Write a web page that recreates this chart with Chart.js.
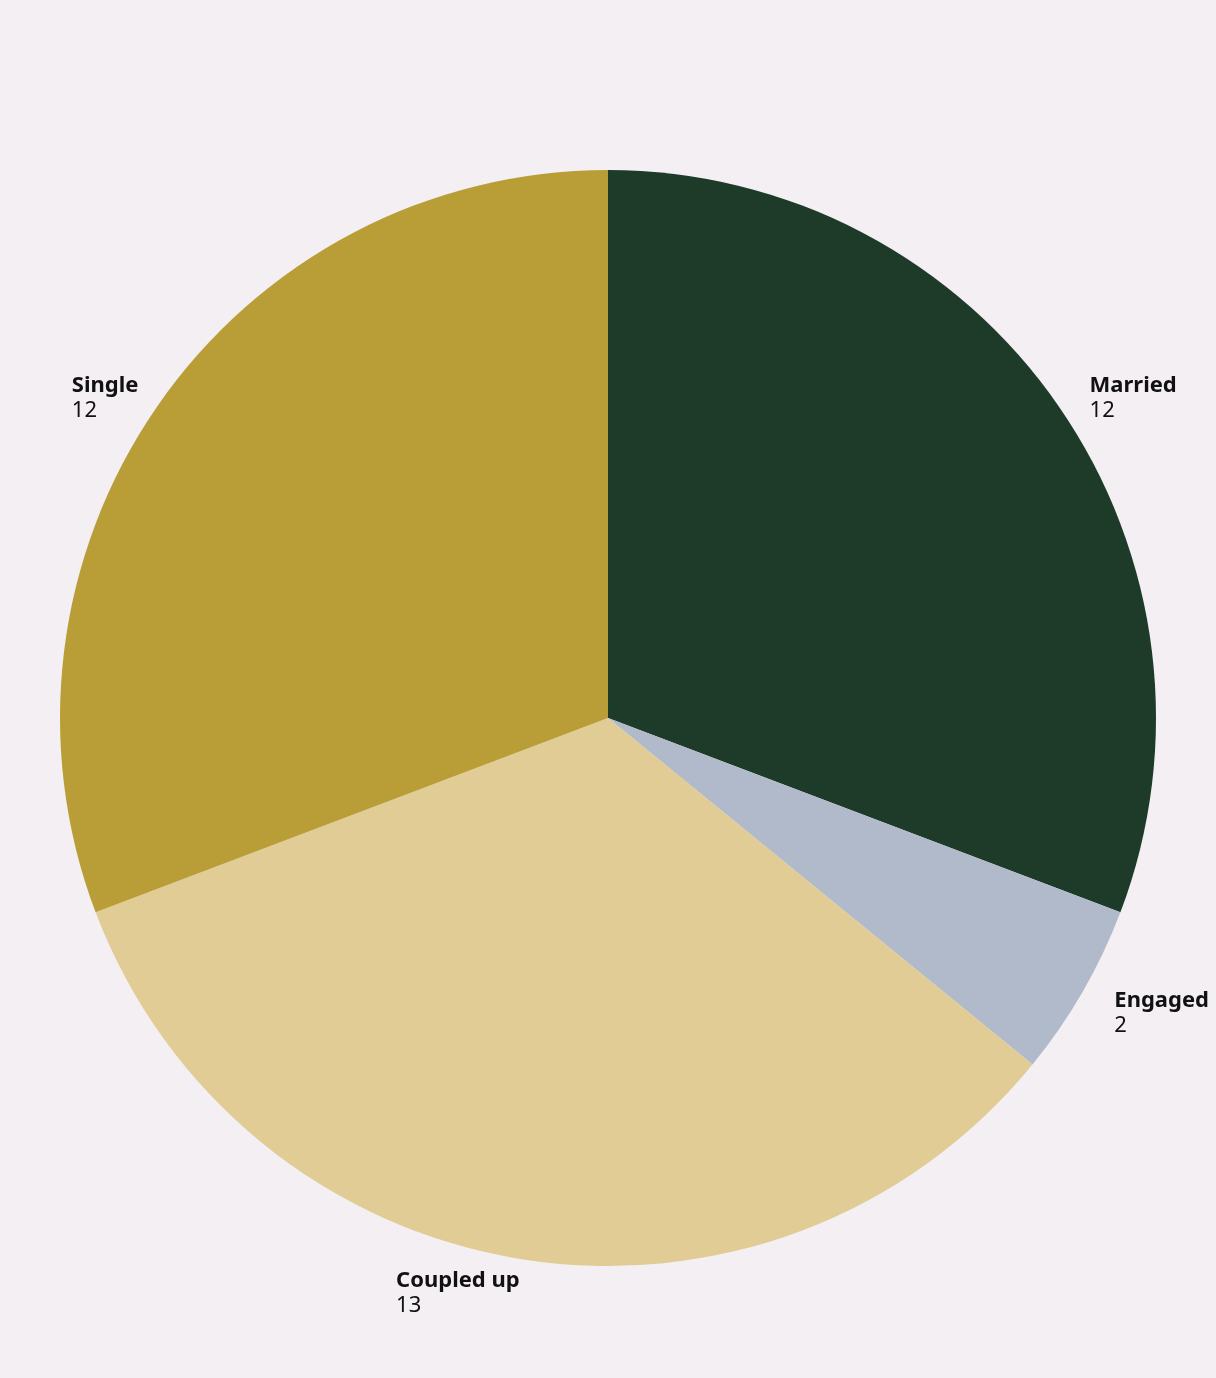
<!DOCTYPE html>
<html>
<head>
<meta charset="utf-8">
<script src="https://cdn.jsdelivr.net/npm/chart.js@4"></script>
<style>
    html, body { margin: 0; padding: 0; background: #f3eff3; }
    #wrap { width: 1216px; height: 1378px; }
</style>
</head>
<body>
<div id="wrap"><canvas id="pieChart"></canvas></div>
<script>
// Chart data
const categories = ['Married', 'Engaged', 'Coupled up', 'Single'];
const counts = [12, 2, 13, 12];
const sliceColors = ['#1e3b2a', '#b1bacb', '#e0cc94', '#b99e38'];

// Outside labels: bold name with value below
const outsideLabels = {
    id: 'outsideLabels',
    afterDatasetsDraw(chart) {
        const ctx = chart.ctx;
        const meta = chart.getDatasetMeta(0);
        ctx.save();
        ctx.fillStyle = '#111111';
        ctx.textBaseline = 'top';
        ctx.textAlign = 'left';
        meta.data.forEach(function(arc, i) {
            const mid = (arc.startAngle + arc.endAngle) / 2;
            const r = arc.outerRadius * 1.05;
            const ax = arc.x + Math.cos(mid) * r;
            const ay = arc.y + Math.sin(mid) * r;
            const name = categories[i];
            const val = String(counts[i]);
            ctx.font = 'bold 22px "Noto Sans"';
            const w1 = ctx.measureText(name).width;
            ctx.font = '22px "Noto Sans"';
            const w2 = ctx.measureText(val).width;
            const w = Math.max(w1, w2);
            const x = ax >= arc.x ? ax + 8 : ax - w + 4;
            const y = ay - 16;
            ctx.font = 'bold 22px "Noto Sans"';
            ctx.fillText(name, x, y);
            ctx.font = '22px "Noto Sans"';
            ctx.fillText(val, x, y + 25);
        });
        ctx.restore();
    }
};

new Chart(document.getElementById('pieChart'), {
    type: 'pie',
    data: {
        labels: categories,
        datasets: [{
            data: counts,
            backgroundColor: sliceColors,
            borderWidth: 0
        }]
    },
    options: {
        responsive: true,
        maintainAspectRatio: false,
        animation: false,
        layout: { padding: { top: 170, bottom: 112, left: 60, right: 60 } },
        plugins: {
            legend: { display: false },
            tooltip: { enabled: false }
        }
    },
    plugins: [outsideLabels]
});
</script>
</body>
</html>
